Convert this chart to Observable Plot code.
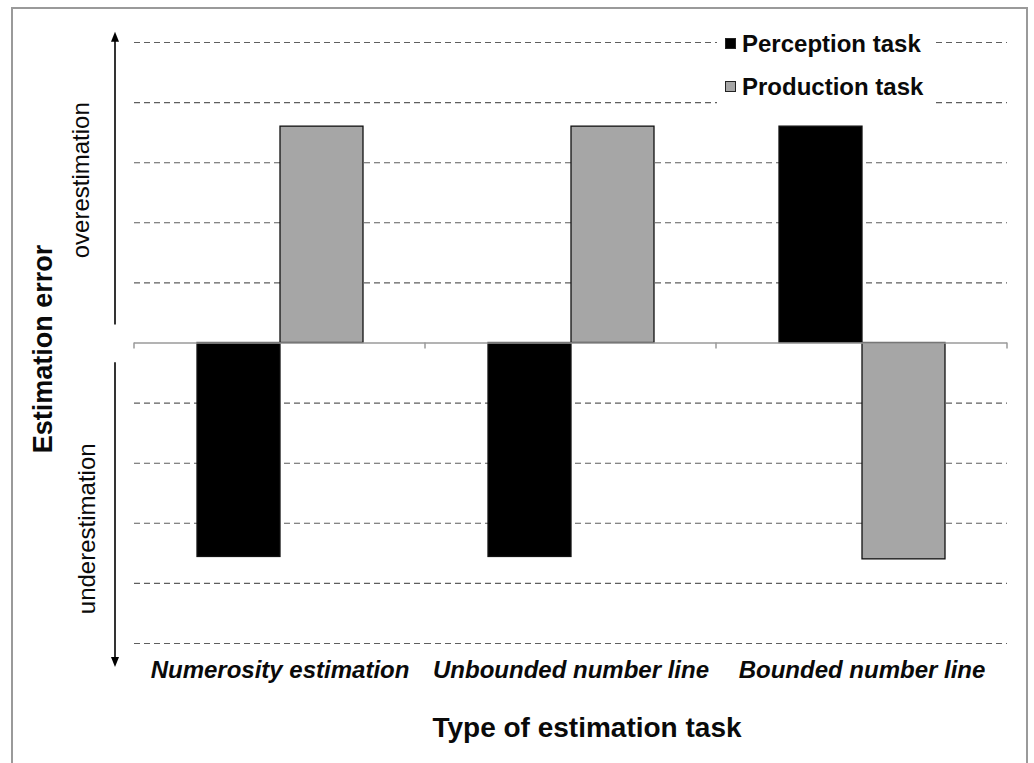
<!DOCTYPE html>
<html>
<head>
<meta charset="utf-8">
<script src="https://cdn.jsdelivr.net/npm/d3@7"></script>
<script src="https://cdn.jsdelivr.net/npm/@observablehq/plot@0.6"></script>
<style>
  html, body { margin: 0; padding: 0; background: #fff; }
  body { font-family: "Liberation Sans", Arial, Helvetica, sans-serif; }
  #wrap { position: relative; width: 1034px; height: 763px; overflow: hidden; background: #fff; }
  #frame { position: absolute; left: 11px; top: 7px; width: 1017px; height: 800px; border: 2px solid #9a9a9a; box-sizing: border-box; pointer-events: none; }
  #chart { position: absolute; left: 0; top: 0; }
  #legend { position: absolute; left: 717px; top: 22px; width: 215px; background: #fff; }
  .row { height: 43px; display: flex; align-items: center; font-weight: bold; font-size: 24px; color: #0a0a0a; }
  .sw { width: 11px; height: 11px; margin-left: 8px; margin-right: 6px; box-sizing: border-box; border: 1px solid #222; }
</style>
</head>
<body>
<div id="wrap">
  <div id="chart"></div>
  <div id="legend"></div>
  <div id="frame"></div>
</div>
<script>
// ---- data ----
const categories = ["Numerosity estimation", "Unbounded number line", "Bounded number line"];
const series = ["Perception task", "Production task"];
const perceptionValues = [-3.56, -3.56, 3.6];
const productionValues = [3.6, 3.6, -3.6];
const gridValues = [-5, -4, -3, -2, -1, 1, 2, 3, 4, 5];
const seriesColors = ["#000000", "#a6a6a6"];
const xTitle = "Type of estimation task";
const yTitle = "Estimation error";
const upLabel = "overestimation";
const downLabel = "underestimation";

const data = [];
categories.forEach((c, i) => {
  data.push({category: c, series: series[0], value: perceptionValues[i]});
  data.push({category: c, series: series[1], value: productionValues[i]});
});

const plot = Plot.plot({
  width: 1034,
  height: 763,
  marginLeft: 133,
  marginRight: 27,
  marginTop: 42,
  marginBottom: 120,
  style: {background: "transparent", fontFamily: "'Liberation Sans', Arial, sans-serif"},
  facet: {data: data, x: "category"},
  fx: {domain: categories, padding: 0, axis: null, label: null},
  x: {domain: series, paddingInner: 0, paddingOuter: 0.753, axis: null},
  y: {domain: [-5, 5], axis: null},
  color: {domain: series, range: seriesColors},
  marks: [
    Plot.ruleY(gridValues, {stroke: "#5e5e5e", strokeWidth: 1.1, strokeDasharray: "6,4"}),
    Plot.barY(data, {x: "series", y: "value", fill: "series", stroke: "#111", strokeWidth: 1.3}),
    Plot.ruleY([0], {stroke: "#9a9a9a", strokeWidth: 1.6}),
    Plot.text(data, Plot.selectFirst({
      text: "category", frameAnchor: "bottom", dy: 27, lineAnchor: "middle",
      fontSize: 24, fontWeight: "bold", fontStyle: "italic", fill: "#0a0a0a"
    }))
  ]
});
document.getElementById("chart").appendChild(plot);

// ---- annotations using the plot's own scales ----
const svg = d3.select(plot);
const yS = plot.scale("y");
const fxS = plot.scale("fx");

// small ticks at category boundaries on the zero line
const bounds = categories.map(c => fxS.apply(c));
bounds.push(fxS.apply(categories[categories.length - 1]) + fxS.bandwidth);
const y0 = yS.apply(0);
bounds.forEach(bx => {
  svg.append("line").attr("x1", bx).attr("x2", bx).attr("y1", y0).attr("y2", y0 + 6)
    .attr("stroke", "#9a9a9a").attr("stroke-width", 1.5);
});

// vertical arrows
const ax = 115;
function arrow(vFrom, vTo) {
  const yA = yS.apply(vFrom), yB = yS.apply(vTo);
  const dir = yB < yA ? 1 : -1; // 1 = pointing up
  svg.append("line").attr("x1", ax).attr("x2", ax).attr("y1", yA).attr("y2", yB + dir * 6)
    .attr("stroke", "#000").attr("stroke-width", 1.6);
  svg.append("path")
    .attr("d", `M${ax},${yB} L${ax - 4},${yB + dir * 10} L${ax + 4},${yB + dir * 10} Z`)
    .attr("fill", "#000");
}
arrow(0.3, 5.17);
arrow(-0.33, -5.4);

// rotated labels
function vtext(txt, bx, cy, size, weight) {
  svg.append("text")
    .attr("transform", `translate(${bx},${cy}) rotate(-90)`)
    .attr("text-anchor", "middle")
    .attr("font-size", size)
    .attr("font-weight", weight)
    .attr("fill", "#0a0a0a")
    .text(txt);
}
vtext(yTitle, 52, 349, 27, "bold");
vtext(upLabel, 89, yS.apply(2.7), 24, "normal");
vtext(downLabel, 95, yS.apply(-3.1), 24, "normal");

// x title
svg.append("text")
  .attr("x", 587).attr("y", 737)
  .attr("text-anchor", "middle")
  .attr("font-size", 28).attr("font-weight", "bold").attr("fill", "#0a0a0a")
  .text(xTitle);

// legend
const legend = d3.select("#legend");
series.forEach((s, i) => {
  const row = legend.append("div").attr("class", "row");
  row.append("div").attr("class", "sw").style("background", seriesColors[i]);
  row.append("span").text(s);
});
</script>
</body>
</html>
